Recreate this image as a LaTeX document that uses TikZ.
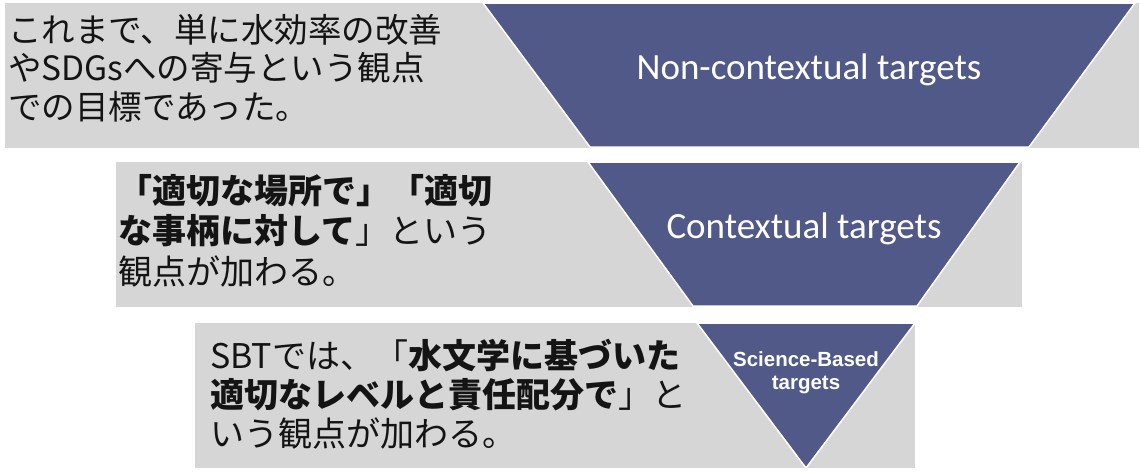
\documentclass[tikz,border=0pt]{standalone}
\usepackage{fontspec}
\usepackage{tikz}
\newfontfamily\jpfont{Noto Sans CJK JP}
\newfontfamily\calfont{Carlito}
\newfontfamily\sbtfont{Liberation Sans}
\definecolor{funnelblue}{RGB}{81,89,136}
\definecolor{bandgray}{RGB}{214,214,214}
\definecolor{inkblack}{RGB}{20,20,20}
\tikzset{
	band/.style = {fill=bandgray},
	funnel/.style = {fill=funnelblue, draw=white, line width=1.5pt, line join=miter},
	note/.style = {anchor=west, align=left, inner sep=0pt, text=inkblack},
	funnellabel/.style = {text=white, inner sep=0pt, align=center},
}

\begin{document}
\begin{tikzpicture}[x=1pt, y=-1pt]
		\useasboundingbox (0, 0) rectangle (1140, 471);
		\fill[band] (5, 3) rectangle (1139, 148);
		\fill[band] (116, 162) rectangle (1022, 307);
		\fill[band] (195, 323) rectangle (915, 468);
		\draw[funnel] (483, 3) -- (1135, 3) -- (1029, 147) -- (590, 147) -- cycle;
		\draw[funnel] (588, 162) -- (1020, 162) -- (917, 306) -- (693, 306) -- cycle;
		\draw[funnel] (697, 323) -- (915, 323) -- (806, 468) -- cycle;
		\node[note, font={\jpfont\fontsize{33.5}{38.5}\selectfont}] (nonctx) at (8, 68) {これまで、単に水効率の改善\\やSDGsへの寄与という観点\\での目標であった。};
		\node[note, font={\jpfont\fontsize{34}{40.5}\selectfont}] (ctx) at (118, 230.5) {{\bfseries 「適切な場所で」「適切}\\{\bfseries な事柄に対して}」という\\観点が加わる。};
		\node[note, font={\jpfont\fontsize{34}{39}\selectfont}] (sbt) at (210, 394) {SBTでは、「{\bfseries 水文学に基づいた}\\{\bfseries 適切なレベルと責任配分で}」と\\いう観点が加わる。};
		\node[funnellabel, font={\calfont\fontsize{37}{44}\selectfont}] (nonctxlabel) at (809, 70) {Non-contextual targets};
		\node[funnellabel, font={\calfont\fontsize{37}{44}\selectfont}] (ctxlabel) at (804, 229) {Contextual targets};
		\node[funnellabel, font={\sbtfont\bfseries\fontsize{20.5}{23}\selectfont}] (sbtlabel) at (806, 373) {Science-Based\\targets};
	\end{tikzpicture}
\end{document}
